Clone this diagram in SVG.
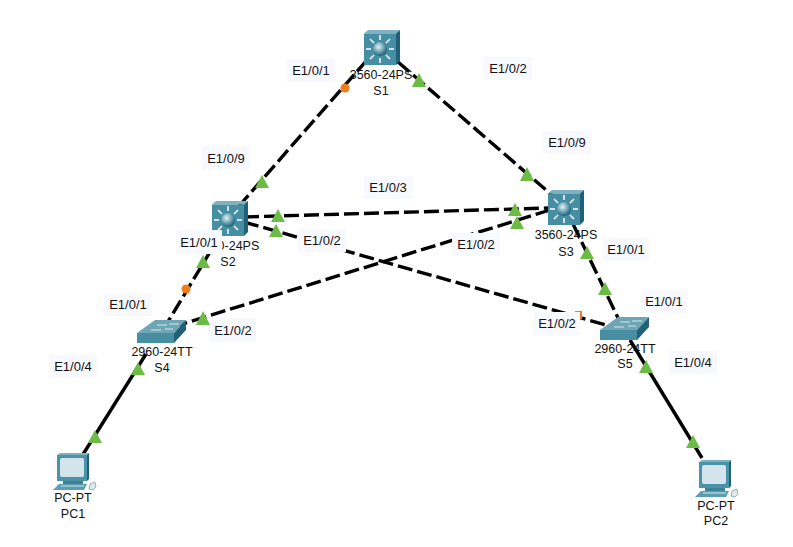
<svg xmlns="http://www.w3.org/2000/svg" width="793" height="547" viewBox="0 0 793 547">
<style>
text{font-family:"Liberation Sans",Arial,sans-serif;font-size:12.5px;fill:#111;text-anchor:middle}
#port-labels text{font-size:13px}
.dash{stroke:#000;stroke-width:3.4;fill:none;stroke-dasharray:15 5}
.solid{stroke:#000;stroke-width:3.4;fill:none}
.up{fill:#6cbb45}
.down{fill:#f07d1c}
.lb{fill:#f8f8ff}
.arrow{stroke:#fff;stroke-width:1.5;fill:none}
</style>
<defs>
<radialGradient id="ball" cx="40%" cy="35%" r="65%"><stop offset="0" stop-color="#e4f2f5"/><stop offset=".55" stop-color="#6fa6b6"/><stop offset="1" stop-color="#1f5f74"/></radialGradient>
<symbol id="l3" overflow="visible" width="36" height="36" viewBox="0 0 36 36">
<path d="M0 3.5 4 0H36L32 3.5Z" fill="#7fb2c0"/>
<path d="M32 3.5 36 0V31L32 35Z" fill="#1f6277"/>
<rect x="0" y="3.5" width="32" height="31.5" fill="#458ea3"/>
<g class="arrow"><path d="M16 5V10M16 28V33M2 19H7M25 19H30M6 9 10 13M26 9 22 13M6 29 10 25M26 29 22 25"/></g>
<circle cx="16" cy="19" r="7" fill="url(#ball)"/>
</symbol>
<symbol id="l2" overflow="visible" width="50" height="24" viewBox="0 0 50 24">
<path d="M0 13 18 0H49L37 13Z" fill="#6ea6b6"/>
<path d="M37 13 49 0V10L37 23Z" fill="#1f6277"/>
<rect x="0" y="13" width="37" height="10" fill="#478ea3"/>
<path d="M14 10H24M20 5H30M28 9H36M32 4H42" stroke="#d6e6ea" stroke-width="1" fill="none"/>
</symbol>
<symbol id="pc" overflow="visible" width="42" height="38" viewBox="0 0 42 38">
<path d="M0 2 3 0H32L30 2Z" fill="#7fb2c0"/>
<path d="M30 2 32 0V26L30 28Z" fill="#1f6277"/>
<rect x="0" y="2" width="30" height="26" fill="#4a93a8"/>
<rect x="3" y="5" width="24" height="19" rx="2" fill="#d4e4ec"/>
<rect x="6" y="28" width="20" height="3" fill="#3d8398"/>
<path d="M-4 37 2 31H30L27 37Z" fill="#5a9db0"/>
<path d="M4 33H27" stroke="#d4e4ec" stroke-width="1"/>
<path d="M32 36 33 31 38 29 39 34 36 37Z" fill="#dde8ea" stroke="#7fa5b0" stroke-width=".8"/>
</symbol>
</defs>
<rect width="793" height="547" fill="#fff"/>
<g id="connectors">
<path class="dash" d="M367 60 239 206"/>
<path class="dash" d="M398 62 553 196"/>
<path class="dash" d="M244 217 549 208"/>
<path class="dash" d="M244 222 606 325"/>
<path class="dash" d="M550 210 176 326"/>
<path class="dash" d="M222 232 160 335"/>
<path class="dash" d="M573 224 620 322"/>
<path class="solid" d="M146 354 82 456"/>
<path class="solid" d="M630 340 702 458"/>
</g>
<g id="S1"><use href="#l3" x="364" y="30"/><text x="381" y="79">3560-24PS</text><text x="381" y="95">S1</text></g>
<g id="S2"><use href="#l3" x="212" y="201"/><text x="228" y="250">3560-24PS</text><text x="228" y="266">S2</text></g>
<g id="S3"><use href="#l3" x="548" y="190"/><text x="566" y="239">3560-24PS</text><text x="566" y="256">S3</text></g>
<g id="S4"><use href="#l2" x="137" y="320"/><text x="162" y="356">2960-24TT</text><text x="162" y="372">S4</text></g>
<g id="S5"><use href="#l2" x="600" y="317"/><text x="625" y="353">2960-24TT</text><text x="625" y="368">S5</text></g>
<g id="PC1"><use href="#pc" x="57" y="453"/><text x="73" y="502">PC-PT</text><text x="73" y="518">PC1</text></g>
<g id="PC2"><use href="#pc" x="699" y="460"/><text x="716" y="510">PC-PT</text><text x="716" y="525">PC2</text></g>
<g id="link-status">
<circle class="down" cx="345" cy="88" r="4.5"/>
<circle class="down" cx="186" cy="289" r="4.5"/>
<rect class="down" x="575" y="311" width="7" height="8"/>
<path class="up" d="M419 73 426 87H412Z"/>
<path class="up" d="M262 175 269 188H255Z"/>
<path class="up" d="M527 167 534 181H520Z"/>
<path class="up" d="M278 209 285 222H271Z"/>
<path class="up" d="M515 203 522 216H508Z"/>
<path class="up" d="M276 224 283 237H269Z"/>
<path class="up" d="M517 216 524 229H510Z"/>
<path class="up" d="M203 255 210 268H196Z"/>
<path class="up" d="M203 311 210 325H196Z"/>
<path class="up" d="M587 246 594 259H580Z"/>
<path class="up" d="M605 282 612 295H598Z"/>
<path class="up" d="M138 362 145 375H131Z"/>
<path class="up" d="M95 430 102 443H88Z"/>
<path class="up" d="M646 360 653 373H639Z"/>
<path class="up" d="M693 435 700 448H686Z"/>
</g>
<g id="port-labels">
<rect class="lb" x="287" y="59" width="48" height="23"/><text x="311" y="75">E1/0/1</text>
<rect class="lb" x="484" y="57" width="48" height="23"/><text x="508" y="73">E1/0/2</text>
<rect class="lb" x="202" y="147" width="48" height="23"/><text x="226" y="163">E1/0/9</text>
<rect class="lb" x="543" y="131" width="48" height="23"/><text x="567" y="147">E1/0/9</text>
<rect class="lb" x="364" y="176" width="48" height="23"/><text x="388" y="192">E1/0/3</text>
<rect class="lb" x="298" y="229" width="48" height="23"/><text x="322" y="245">E1/0/2</text>
<rect class="lb" x="176" y="230" width="46" height="24"/><text x="199" y="247">E1/0/1</text>
<rect class="lb" x="452" y="233" width="48" height="23"/><text x="476" y="249">E1/0/2</text>
<rect class="lb" x="603" y="238" width="46" height="23"/><text x="626" y="254">E1/0/1</text>
<rect class="lb" x="104" y="293" width="48" height="23"/><text x="128" y="309">E1/0/1</text>
<rect class="lb" x="210" y="318" width="46" height="24"/><text x="233" y="335">E1/0/2</text>
<rect class="lb" x="641" y="290" width="46" height="23"/><text x="664" y="306">E1/0/1</text>
<rect class="lb" x="534" y="312" width="46" height="23"/><text x="557" y="328">E1/0/2</text>
<rect class="lb" x="49" y="355" width="48" height="23"/><text x="73" y="371">E1/0/4</text>
<rect class="lb" x="669" y="351" width="48" height="23"/><text x="693" y="367">E1/0/4</text>
</g>
</svg>
